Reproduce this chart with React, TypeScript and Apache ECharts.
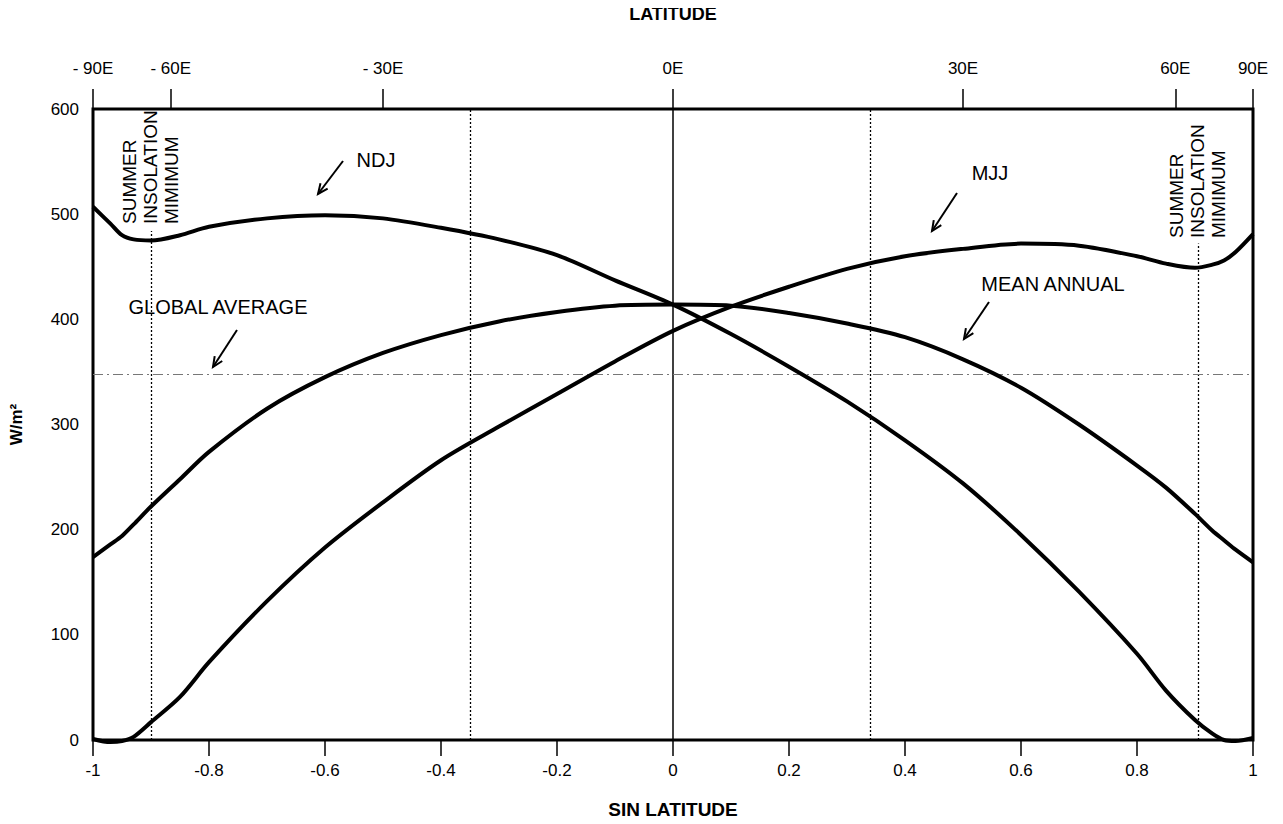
import React, { useEffect, useRef } from "react";
import * as echarts from "echarts";

// sin(latitude) sample positions
const sinLat = [-1, -0.97, -0.95, -0.93, -0.9, -0.85, -0.8, -0.7, -0.6, -0.5, -0.4, -0.3, -0.2, -0.1, 0, 0.1, 0.2, 0.3, 0.4, 0.5, 0.6, 0.7, 0.8, 0.85, 0.9, 0.93, 0.95, 0.97, 1];
// W/m2
const ndj = [507, 491, 480, 476, 475, 480, 488, 496, 499, 496, 487, 476, 461, 437, 414, 386, 355, 322, 285, 244, 195, 141, 82, 47, 19, 6, 0, -1, 2];
const mjj = [1, -2, -1, 3, 17, 41, 74, 132, 183, 226, 266, 298, 329, 360, 389, 412, 431, 448, 460, 467, 472, 470, 460, 453, 449, 452, 456, 464, 481];
const meanAnnual = [174, 186, 194, 205, 222, 248, 274, 315, 345, 368, 385, 398, 407, 413, 414, 413, 406, 396, 383, 362, 335, 300, 261, 240, 215, 199, 190, 181, 169];

const globalAverage = 348;
// summer insolation minimum lines: [sin latitude, top value where the label begins]
const insolationMinima = [-0.9, 0.905];
const insolationLineTops = [484, 472];
const tropicLines = [-0.355, 0.342];

const latDegrees = [-90, -60, -30, 0, 30, 60, 90];
const latLabels = ["- 90E", "- 60E", "- 30E", "0E", "30E", "60E", "90E"];
const latTicks = latDegrees.map((d) => Math.sin((d * Math.PI) / 180));

const FONT = "Liberation Sans, Arial, Helvetica, sans-serif";

function arrow(x1: number, y1: number, x2: number, y2: number) {
  const a = Math.atan2(y2 - y1, x2 - x1);
  const L = 11;
  const w = 0.42;
  return {
    type: "group",
    z: 100,
    children: [
      { type: "line", shape: { x1, y1, x2, y2 }, style: { stroke: "#000", lineWidth: 2 } },
      {
        type: "polyline",
        shape: {
          points: [
            [x2 - L * Math.cos(a - w), y2 - L * Math.sin(a - w)],
            [x2, y2],
            [x2 - L * Math.cos(a + w), y2 - L * Math.sin(a + w)],
          ],
        },
        style: { stroke: "#000", lineWidth: 2, fill: null },
      },
    ],
  };
}

function label(text: string, x: number, y: number) {
  return {
    type: "text",
    z: 100,
    x,
    y,
    style: { text, fontFamily: FONT, fontSize: 20, fill: "#000", textAlign: "center", textVerticalAlign: "middle" },
  };
}

function vlabel(x: number, y: number) {
  return {
    type: "text",
    z: 100,
    x,
    y,
    rotation: Math.PI / 2,
    style: {
      text: "SUMMER\nINSOLATION\nMIMIMUM",
      fontFamily: FONT,
      fontSize: 19,
      lineHeight: 21,
      fill: "#000",
      textAlign: "left",
      textVerticalAlign: "top",
    },
  };
}

export default function App() {
  const ref = useRef<HTMLDivElement>(null);
  useEffect(() => {
    if (!ref.current) return;
    const chart = echarts.init(ref.current, null, { renderer: "svg" });
    const lineStyle = { color: "#000", width: 4 };
    const dotted = { color: "#000", width: 1.3, type: [2, 2] };
    const mk = (name: string, vals: number[], extra: any = {}) => ({
      name,
      type: "line",
      data: sinLat.map((s, i) => [s, vals[i]]),
      showSymbol: false,
      smooth: 0.3,
      clip: false,
      lineStyle,
      z: 5,
      ...extra,
    });
    chart.setOption({
      animation: false,
      backgroundColor: "#fff",
      grid: { left: 91, top: 103, width: 1162, height: 643, show: true, borderColor: "#000", borderWidth: 3, backgroundColor: "transparent" },
      xAxis: [
        {
          type: "value",
          min: -1,
          max: 1,
          interval: 0.2,
          position: "bottom",
          name: "SIN LATITUDE",
          nameLocation: "middle",
          nameGap: 60,
          nameTextStyle: { fontFamily: FONT, fontSize: 19, fontWeight: "bold", color: "#000" },
          axisLine: { show: false },
          axisTick: { show: true, length: 16, lineStyle: { color: "#000", width: 1.5 } },
          axisLabel: { fontFamily: FONT, fontSize: 17, color: "#000", margin: 22 },
          splitLine: { show: false },
        },
        {
          type: "value",
          min: -1,
          max: 1,
          position: "top",
          name: "LATITUDE",
          nameLocation: "middle",
          nameGap: 86,
          nameTextStyle: { fontFamily: FONT, fontSize: 18, fontWeight: "bold", color: "#000" },
          axisLine: { show: false },
          axisTick: { show: true, length: 20, customValues: latTicks, lineStyle: { color: "#000", width: 1.5 } },
          axisLabel: {
            fontFamily: FONT,
            fontSize: 17,
            color: "#000",
            margin: 32,
            customValues: latTicks,
            formatter: (v: number) => {
              let best = 0;
              latTicks.forEach((t, i) => {
                if (Math.abs(t - v) < Math.abs(latTicks[best] - v)) best = i;
              });
              return latLabels[best];
            },
          },
          splitLine: { show: false },
        },
      ],
      yAxis: {
        type: "value",
        min: 0,
        max: 600,
        interval: 100,
        name: "W/m²",
        nameLocation: "middle",
        nameGap: 68,
        nameRotate: 90,
        nameTextStyle: { fontFamily: FONT, fontSize: 17, fontWeight: "bold", color: "#000" },
        axisLine: { show: false },
        axisTick: { show: false },
        axisLabel: { fontFamily: FONT, fontSize: 17, color: "#000", margin: 14 },
        splitLine: { show: false },
      },
      series: [
        mk("NDJ", ndj, {
          markLine: {
            silent: true,
            symbol: "none",
            label: { show: false },
            data: [
              ...insolationMinima.map((x, i) => [
                { coord: [x, 0], lineStyle: dotted },
                { coord: [x, insolationLineTops[i]] },
              ]),
              ...tropicLines.map((x) => ({ xAxis: x, lineStyle: dotted })),
              { xAxis: 0, lineStyle: { color: "#000", width: 1.5, type: "solid" } },
              { yAxis: globalAverage, lineStyle: { color: "#777", width: 1, type: [10, 4, 2, 4] } },
            ],
          },
        }),
        mk("MJJ", mjj),
        mk("MEAN ANNUAL", meanAnnual),
      ],
      graphic: [
        vlabel(119, 224),
        vlabel(1166, 238),
        label("NDJ", 376, 160),
        arrow(343, 161, 318, 194),
        label("MJJ", 990, 173),
        arrow(957, 193, 932, 231),
        label("MEAN ANNUAL", 1053, 284),
        arrow(989, 302, 964, 339),
        label("GLOBAL AVERAGE", 218, 307),
        arrow(237, 330, 213, 367),
      ],
    });
    return () => chart.dispose();
  }, []);
  return <div ref={ref} style={{ width: 1283, height: 824, margin: -8 }} />;
}
